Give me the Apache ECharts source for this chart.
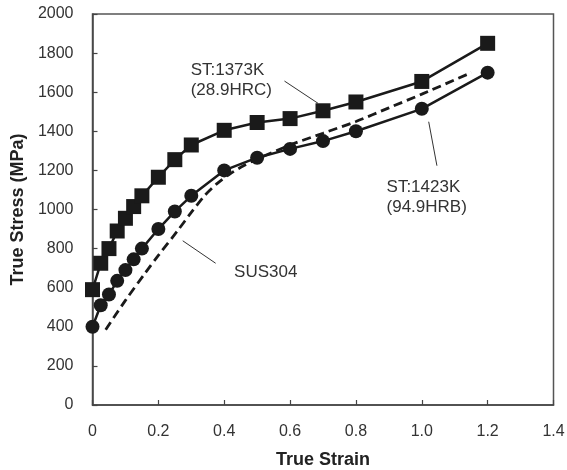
<!DOCTYPE html>
<html>
<head>
<meta charset="utf-8">
<script src="https://cdn.jsdelivr.net/npm/echarts@6/dist/echarts.min.js"></script>
<style>
  html, body { margin: 0; padding: 0; background: #fff; }
  #chart { width: 567px; height: 470px; }
</style>
</head>
<body>
<div id="chart"></div>
<script>
// Strain values at which the heat-treated specimens were measured
const strainST = [0, 0.025, 0.05, 0.075, 0.1, 0.125, 0.15, 0.2, 0.25, 0.3, 0.4, 0.5, 0.6, 0.7, 0.8, 1.0, 1.2];
// True stress (MPa), ST:1373K (28.9HRC)
const stress1373 = [590, 725, 800, 890, 955, 1015, 1070, 1165, 1255, 1330, 1405, 1445, 1465, 1505, 1550, 1655, 1850];
// True stress (MPa), ST:1423K (94.9HRB)
const stress1423 = [400, 510, 565, 635, 690, 745, 800, 900, 990, 1070, 1200, 1265, 1310, 1350, 1400, 1515, 1700];
// SUS304 reference curve
const strainSUS = [0.04, 0.1, 0.16, 0.2, 0.26, 0.3, 0.34, 0.38, 0.42, 0.46, 0.5, 0.6, 0.7, 0.8, 0.9, 1.0, 1.15];
const stressSUS = [385, 535, 675, 765, 895, 985, 1070, 1135, 1185, 1225, 1258, 1330, 1390, 1450, 1520, 1590, 1700];

const xTicks = ['0', '0.2', '0.4', '0.6', '0.8', '1.0', '1.2', '1.4'];

// Callout texts (data-space anchor of their left-middle point) and leader lines
const labelTexts = ['ST:1373K\n(28.9HRC)', 'ST:1423K\n(94.9HRB)', 'SUS304'];
const labelAnchors = [[0.298, 1662], [0.893, 1064], [0.430, 677]];
const leaders = [
  [[0.583, 1657], [0.685, 1543]],
  [[1.021, 1449], [1.046, 1224]],
  [[0.274, 840], [0.374, 725]]
];

const pairs = (xs, ys) => xs.map((x, i) => [x, ys[i]]);
const ink = '#1a1a1a';
const font = '"Liberation Sans", Arial, sans-serif';

const chart = echarts.init(document.getElementById('chart'), null, { renderer: 'canvas' });
chart.setOption({
  animation: false,
  backgroundColor: '#fff',
  grid: {
    left: 92.5, right: 13.5, top: 14, bottom: 65,
    containLabel: false, outerBoundsMode: 'none',
    show: true, borderColor: '#555', borderWidth: 1.5, backgroundColor: 'transparent'
  },
  xAxis: {
    type: 'value', min: 0, max: 1.4, interval: 0.2,
    name: 'True Strain', nameLocation: 'middle', nameGap: 46,
    nameTextStyle: { fontFamily: font, fontWeight: 'bold', fontSize: 18, color: '#222' },
    axisLine: { lineStyle: { color: '#444', width: 1.5 } },
    axisTick: { inside: true, length: 5, lineStyle: { color: '#444', width: 1.2 } },
    axisLabel: {
      fontFamily: font, fontSize: 16, color: '#333', margin: 19,
      formatter: (v) => xTicks[Math.round(v / 0.2)]
    },
    splitLine: { show: false }
  },
  yAxis: {
    type: 'value', min: 0, max: 2000, interval: 200,
    name: 'True Stress (MPa)', nameLocation: 'middle', nameGap: 55,
    nameTextStyle: { fontFamily: font, fontWeight: 'bold', fontSize: 18, color: '#222' },
    axisLine: { show: true, lineStyle: { color: '#444', width: 1.5 } },
    axisTick: { show: true, inside: true, length: 5, lineStyle: { color: '#444', width: 1.2 } },
    axisLabel: { fontFamily: font, fontSize: 16, color: '#333', margin: 19, formatter: (v) => String(v) },
    splitLine: { show: false }
  },
  series: [
    {
      name: 'SUS304', type: 'line', smooth: 0.3, symbol: 'none',
      data: pairs(strainSUS, stressSUS),
      lineStyle: { color: ink, width: 2.8, type: [9, 5] },
      z: 2
    },
    {
      name: 'ST:1373K', type: 'line', symbol: 'rect', symbolSize: 15,
      data: pairs(strainST, stress1373),
      lineStyle: { color: ink, width: 2.5 },
      itemStyle: { color: ink },
      z: 3
    },
    {
      name: 'ST:1423K', type: 'line', symbol: 'circle', symbolSize: 14,
      data: pairs(strainST, stress1423),
      lineStyle: { color: ink, width: 2.5 },
      itemStyle: { color: ink },
      z: 3,
      markLine: {
        silent: true, symbol: 'none', animation: false,
        lineStyle: { color: '#333', width: 1, type: 'solid' },
        label: { show: false },
        data: leaders.map(([a, b]) => [{ coord: a }, { coord: b }])
      },
      markPoint: {
        silent: true, symbol: 'circle', symbolSize: 0, animation: false,
        label: {
          show: true, position: 'right', distance: 0,
          fontFamily: font, fontSize: 17, color: '#333', lineHeight: 20, align: 'left'
        },
        data: labelTexts.map((t, i) => ({ coord: labelAnchors[i], value: t, label: { formatter: t } }))
      }
    }
  ]
});
</script>
</body>
</html>
